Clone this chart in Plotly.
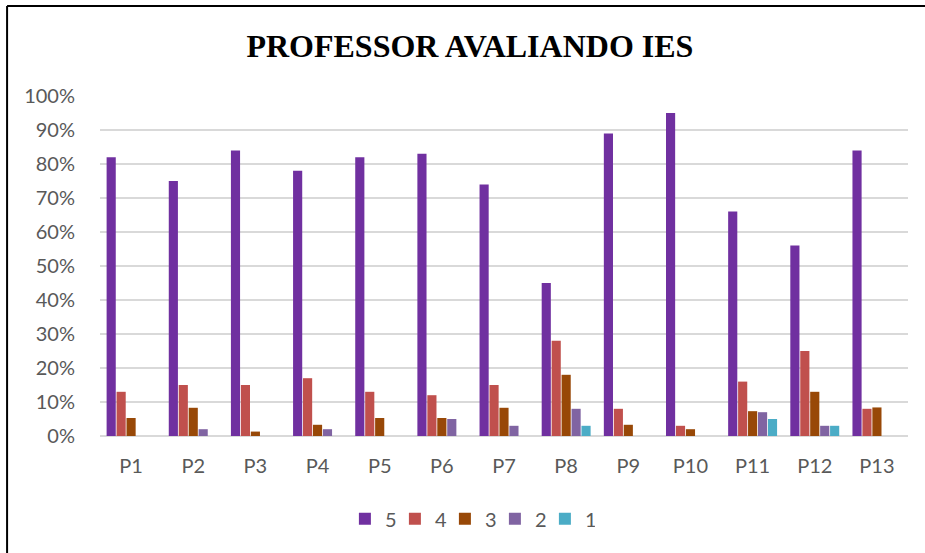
import plotly.graph_objects as go

# ── Data ──────────────────────────────────────────────
categorias = ["P1", "P2", "P3", "P4", "P5", "P6", "P7",
              "P8", "P9", "P10", "P11", "P12", "P13"]

nota_5 = [0.82, 0.75, 0.84, 0.78, 0.82, 0.83, 0.74, 0.45, 0.89, 0.95, 0.66, 0.56, 0.84]
nota_4 = [0.13, 0.15, 0.15, 0.17, 0.13, 0.12, 0.15, 0.28, 0.08, 0.03, 0.16, 0.25, 0.08]
nota_3 = [0.053, 0.083, 0.013, 0.033, 0.053, 0.053, 0.083, 0.18, 0.033, 0.02, 0.073, 0.13, 0.084]
nota_2 = [0, 0.02, 0, 0.02, 0, 0.05, 0.03, 0.08, 0, 0, 0.07, 0.03, 0]
nota_1 = [0, 0, 0, 0, 0, 0, 0, 0.03, 0, 0, 0.05, 0.03, 0]

series = [
    ("5", nota_5, "#7030A0"),
    ("4", nota_4, "#C0504D"),
    ("3", nota_3, "#984807"),
    ("2", nota_2, "#8064A2"),
    ("1", nota_1, "#4BACC6"),
]

# ── Figure ────────────────────────────────────────────
fig = go.Figure()
for nome, vals, cor in series:
    fig.add_trace(go.Bar(
        x=categorias, y=vals, name=nome,
        marker=dict(color=cor, line=dict(width=0)),
        hovertemplate="%{x}: %{y:.0%}<extra>" + nome + "</extra>",
    ))

fig.update_layout(
    width=925, height=553,
    margin=dict(l=100, r=17, t=96, b=117),
    paper_bgcolor="white",
    plot_bgcolor="white",
    barmode="group",
    bargap=0.2,
    bargroupgap=0.08,
    font=dict(family="Lato, Open Sans, sans-serif", size=20, color="#595959"),
    title=dict(
        text="<b>PROFESSOR AVALIANDO IES</b>",
        x=0.508, xref="container", xanchor="center",
        y=0.918, yref="container", yanchor="middle",
        font=dict(family="Liberation Serif, Times New Roman, serif",
                  size=32, color="black"),
    ),
    legend=dict(
        orientation="h",
        x=0.508, xanchor="center", xref="container",
        y=0.062, yanchor="middle", yref="container",
        font=dict(size=20, color="#595959"),
        entrywidth=5, entrywidthmode="pixels",
        traceorder="normal",
    ),
    showlegend=True,
)

fig.update_xaxes(
    showgrid=False, showline=False, zeroline=False,
    ticks="outside", ticklen=12, tickcolor="rgba(0,0,0,0)",
)
fig.update_yaxes(
    range=[0, 1], dtick=0.1, tickformat=".0%",
    showgrid=True, gridcolor="#D9D9D9", gridwidth=1.5,
    zeroline=True, zerolinecolor="#D9D9D9", zerolinewidth=1.5,
    showline=False,
    ticks="outside", ticklen=20, tickcolor="rgba(0,0,0,0)",
)

# black frame (top and left edges of the original chart box)
fig.add_shape(type="line", xref="paper", yref="paper",
              x0=-0.115, x1=1.05, y0=1.265, y1=1.265,
              line=dict(color="black", width=2))
fig.add_shape(type="line", xref="paper", yref="paper",
              x0=-0.115, x1=-0.115, y0=1.265, y1=-0.4,
              line=dict(color="black", width=2))

fig.write_html("out.html", config={"displayModeBar": False},
               post_script="document.body.style.margin='0';")
